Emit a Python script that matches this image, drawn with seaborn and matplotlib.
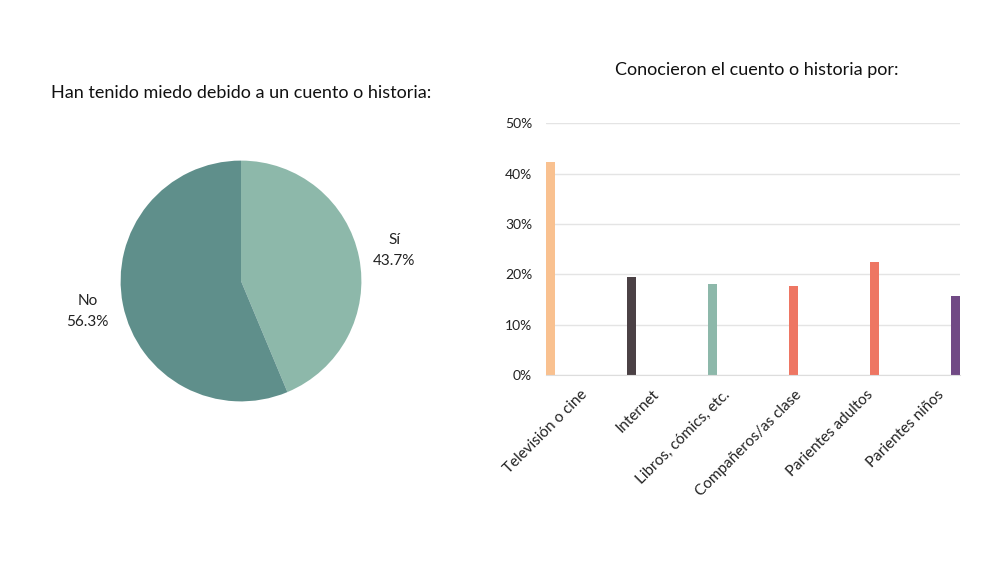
import matplotlib
matplotlib.use("Agg")
import matplotlib.pyplot as plt
import numpy as np
import seaborn as sns
from matplotlib.ticker import FuncFormatter

sns.set_style("white")
plt.rcParams['font.family'] = ['Lato', 'DejaVu Sans']

# pie data
pie_labels = ["Sí", "No"]
pie_values = [43.7, 56.3]
pie_colors = ["#8DB8AA", "#5F8F8B"]

# bar data
categories = ["Televisión o cine", "Internet", "Libros, cómics, etc.",
              "Compañeros/as clase", "Parientes adultos", "Parientes niños"]
percentages = [42.3, 19.4, 18.1, 17.6, 22.5, 15.7]
bar_colors = ["#F9C190", "#4B4145", "#8DB8AA", "#EE7663", "#EE7663", "#714A85"]

fig = plt.figure(figsize=(10, 5.63), dpi=100)

# ---- pie ----
ax1 = fig.add_axes([0.0905, 0.2334, 0.301, 0.535])
ax1.pie(pie_values, colors=pie_colors, startangle=90, counterclock=False,
        labels=[f"{l}\n{v}%" for l, v in zip(pie_labels, pie_values)],
        labeldistance=1.3, wedgeprops=dict(linewidth=0),
        textprops=dict(fontsize=11, color="#222222", ha="center", va="center",
                       linespacing=1.6))
ax1.set_aspect("equal")
fig.text(0.241, 0.835, "Han tenido miedo debido a un cuento o historia:",
         ha="center", va="center", fontsize=13, color="#111111")

# ---- bars ----
ax2 = fig.add_axes([0.546, 0.334, 0.414, 0.447])
sns.barplot(x=categories, y=percentages, hue=categories, palette=bar_colors,
            width=0.11, legend=False, linewidth=0, saturation=1, ax=ax2)
ax2.set_xlim(-0.055, 5.055)
ax2.set_ylim(0, 50)
ax2.set_yticks([0, 10, 20, 30, 40, 50])
ax2.yaxis.set_major_formatter(FuncFormatter(lambda v, p: f"{v:.0f}%"))
ax2.grid(axis="y", color="#E4E4E4", linewidth=1)
ax2.set_axisbelow(True)
for s in ["top", "right", "left"]:
    ax2.spines[s].set_visible(False)
ax2.spines["bottom"].set_color("#DDDDDD")
ax2.tick_params(axis="y", length=0, labelsize=10, labelcolor="#222222", pad=10)
ax2.tick_params(axis="x", length=0, labelsize=11, labelcolor="#222222", pad=9)
label_pos = np.arange(len(categories)) * 0.88 + 0.37
ax2.set_xticks(label_pos)
ax2.set_xticklabels(categories, rotation=45, ha="right", rotation_mode="anchor")
ax2.set_xlabel("")
ax2.set_ylabel("")
fig.text(0.757, 0.876, "Conocieron el cuento o historia por:",
         ha="center", va="center", fontsize=13, color="#111111")

fig.savefig("out.png", dpi=100)
